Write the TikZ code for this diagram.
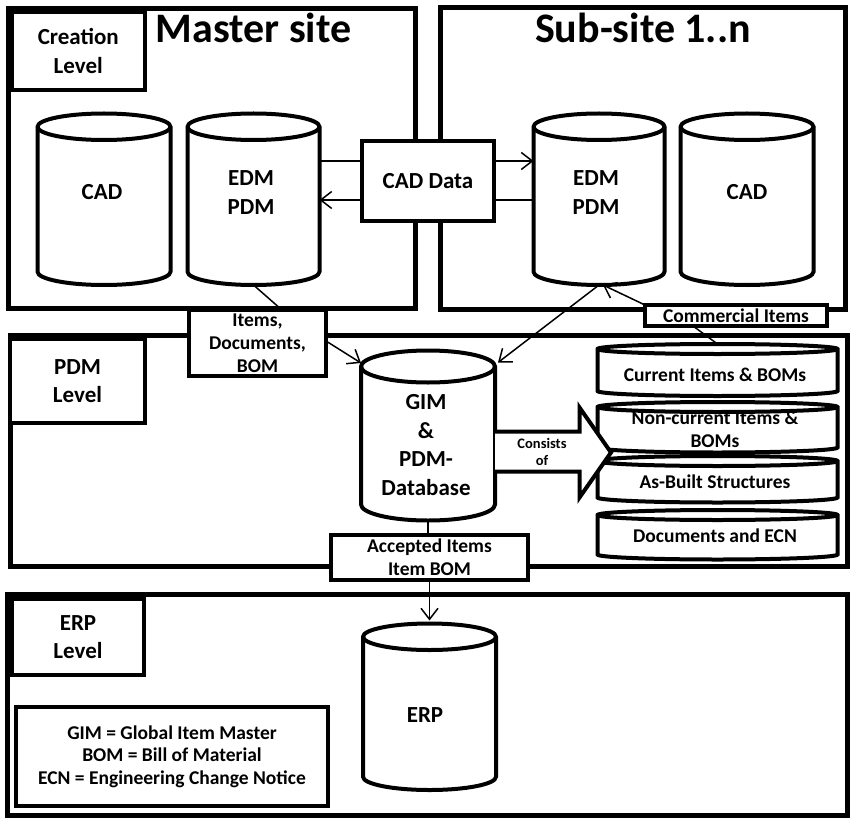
\documentclass[tikz,border=0pt]{standalone}
\usepackage{fontspec}
\setmainfont{Carlito}
\usetikzlibrary{arrows.meta}

% database drum: #1 name, #2 centre x, #3 top, #4 bottom, #5 x radius, #6 y radius
\newcommand{\drum}[6]{%
  \draw[cylline] ({#2-#5},{#3+#6}) -- ({#2-#5},{#4-#6})
     arc[start angle=180,end angle=360,x radius=#5pt,y radius=#6pt]
     -- ({#2+#5},{#3+#6})
     arc[start angle=0,end angle=180,x radius=#5pt,y radius=#6pt] -- cycle;
  \draw[cylline,fill=none] ({#2-#5},{#3+#6})
     arc[start angle=180,end angle=360,x radius=#5pt,y radius=#6pt];
  \node[inner sep=0pt,outer sep=0pt,minimum width={2*#5pt},minimum height={(#4-#3)*1pt}]
     (#1) at (#2,{(#3+#4)/2}) {};
}

\tikzset{
  frame/.style={line width=5pt},
  cylline/.style={line width=4pt,fill=white},
  boxed/.style={draw,line width=4pt,fill=white,inner sep=1pt,outer sep=0pt,align=center},
  conn/.style={line width=1.5pt},
  arrowto/.style={-{Straight Barb[length=11pt,width=17pt]}},
  big/.style={font=\fontsize{23}{28.5}\selectfont\bfseries,align=center,inner sep=0pt},
  small/.style={font=\fontsize{19.5}{23}\selectfont\bfseries,align=center,inner sep=0pt},
  title/.style={font=\fontsize{42}{48}\selectfont\bfseries,inner sep=0pt,anchor=base},
}

\begin{document}
\begin{tikzpicture}[x=1pt,y=-1pt]
\useasboundingbox[fill=white] (0,0) rectangle (850,818);

% level frames
\draw[frame] (8.5,8.5) rectangle (415.5,308);
\draw[frame] (440.5,7.5) rectangle (845.5,309.5);
\draw[frame] (10,335.5) rectangle (847.5,566.5);
\draw[frame] (7,594.5) rectangle (847.5,815.5);

% level captions
\node[boxed,big,minimum width=132.5pt,minimum height=78.5pt] (creation) at (78.25,51.25) {Creation\\Level};
\node[boxed,big,minimum width=135pt,minimum height=84pt] (pdmlvl) at (77.5,381) {PDM\\Level};
\node[boxed,big,minimum width=132pt,minimum height=76pt] (erplvl) at (78,637) {ERP\\Level};

\node[title] (mastertitle) at (253.5,43) {Master site};
\node[title] (subtitle) at (643,43) {Sub-site 1..n};

% databases of the sites
\drum{mCAD}{104}{113.5}{285}{66.5}{13.25}
\drum{mEDM}{253.5}{113.5}{285}{66}{13.25}
\drum{sEDM}{599}{113.5}{285}{65.5}{13.25}
\drum{sCAD}{747}{113.5}{285}{66.5}{13.25}
\node[big,anchor=base] (mCAD-t) at (102,200) {CAD};
\node[big] (mEDM-t) at (251,192.5) {EDM\\PDM};
\node[big] (sEDM-t) at (596,192.5) {EDM\\PDM};
\node[big,anchor=base] (sCAD-t) at (747,200) {CAD};

% global item master
\drum{gim}{428}{350.5}{520.5}{67}{16}
\node[big] (gim-t) at (426,445) {GIM\\\&\\PDM-\\Database};

% ERP database
\drum{erp}{429.5}{623.5}{790}{66.5}{13.25}
\node[big,anchor=base] (erp-t) at (425,722) {ERP};

% stacked contents of the PDM database
\drum{st1}{717.5}{344}{396}{120}{5}
\drum{st2}{717.5}{402}{452.5}{120}{5}
\drum{st3}{717.5}{456}{502.5}{120}{5}
\drum{st4}{717.5}{510}{559.5}{120}{5}
\node[small,anchor=base] (st1-t) at (715,381) {Current Items \& BOMs};
\node[small] (st2-t) at (715,429) {Non-current Items \&\\BOMs};
\node[small,anchor=base] (st3-t) at (715,488) {As-Built Structures};
\node[small,anchor=base] (st4-t) at (715,542) {Documents and ECN};

% "consists of" block arrow
\draw[line width=4pt,fill=white] (495,431.5) -- (579.5,431.5) -- (579.5,407.5) -- (611,452.5)
  -- (579.5,497.5) -- (579.5,471.5) -- (495,471.5);
\node[font=\fontsize{14.5}{17}\selectfont\bfseries,align=center,inner sep=0pt] (consists) at (542,452) {Consists\\of};

% transfer boxes
\node[boxed,font=\fontsize{23}{28}\selectfont\bfseries,minimum width=132pt,minimum height=80pt] (cadData) at (428,181) {CAD Data};
\node[boxed,small,minimum width=137pt,minimum height=66pt] (items) at (257.5,343) {Items,\\Documents,\\BOM};
\node[boxed,small,minimum width=182pt,minimum height=21pt] (commercial) at (736,315.5) {Commercial Items};
\node[boxed,small,minimum width=197pt,minimum height=45pt] (accepted) at (429.5,557.5) {Accepted Items\\Item BOM};

% legend
\node[boxed,font=\fontsize{19.5}{22.5}\selectfont\bfseries,minimum width=312pt,minimum height=99pt] (legend) at (172,756.5)
  {GIM = Global Item Master\\BOM = Bill of Material\\ECN = Engineering Change Notice};

% connectors
\path ([yshift=20pt]cadData.west) coordinate (cdLU)
      ([yshift=-19pt]cadData.west) coordinate (cdLD)
      ([yshift=20pt]cadData.east) coordinate (cdRU)
      ([yshift=-19pt]cadData.east) coordinate (cdRD);
\draw[conn] (mEDM.east |- cdLU) -- (cdLU);
\draw[conn,arrowto] (cdRU) -- (sEDM.west |- cdRU);
\draw[conn,arrowto] (cdLD) -- (mEDM.east |- cdLD);
\draw[conn] (sEDM.west |- cdRD) -- (cdRD);

\draw[conn] (mEDM.south) -- ([xshift=24.5pt]items.north);
\draw[conn,arrowto] ([yshift=2pt]items.east) -- ([yshift=-12.5pt]gim.north west);
\draw[conn,arrowto] (sEDM.south) -- ([xshift=3pt,yshift=-12pt]gim.north east);
\draw[conn,arrowto] (commercial.north west) -- ([xshift=4pt]sEDM.south);
\draw[conn] ([xshift=-43pt]commercial.south) -- (st1.north);
\draw[conn] (gim.south) -- (gim.south |- accepted.north);
\draw[conn,arrowto] (accepted.south) -- ([yshift=3pt]accepted.south |- erp.north);
\end{tikzpicture}
\end{document}
